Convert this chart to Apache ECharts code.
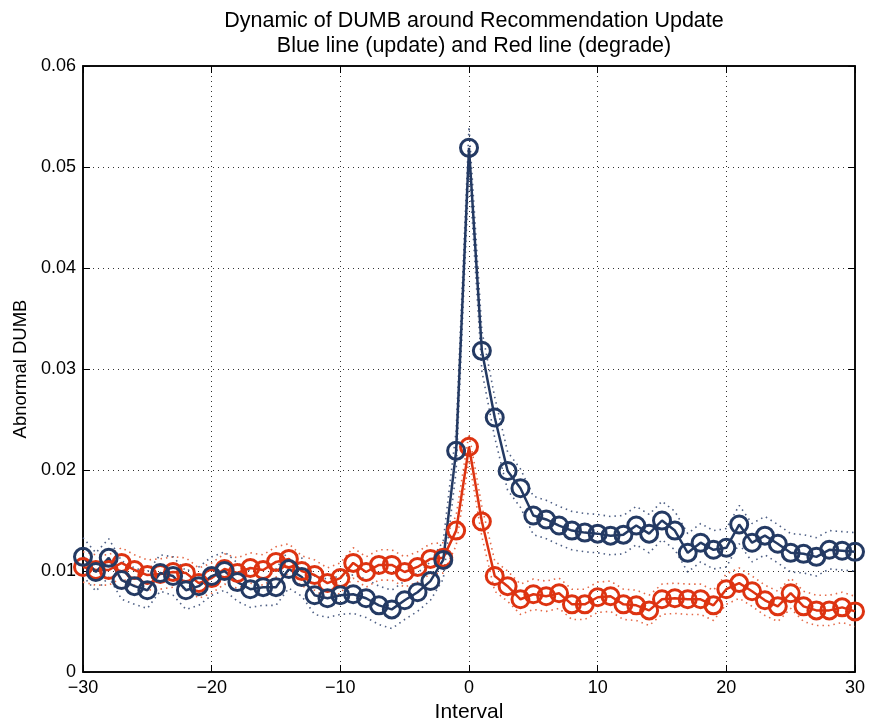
<!DOCTYPE html>
<html>
<head>
<meta charset="utf-8">
<script src="https://cdn.jsdelivr.net/npm/echarts@6/dist/echarts.min.js"></script>
<style>
  html, body { margin: 0; padding: 0; background: #fff; }
  #chart { width: 872px; height: 726px; }
</style>
</head>
<body>
<div id="chart"></div>
<script>
// interval offsets -30..30
var intervals = [-30,-29,-28,-27,-26,-25,-24,-23,-22,-21,-20,-19,-18,-17,-16,-15,-14,-13,-12,-11,
  -10,-9,-8,-7,-6,-5,-4,-3,-2,-1,0,1,2,3,4,5,6,7,8,9,10,11,12,13,14,15,16,17,18,19,20,
  21,22,23,24,25,26,27,28,29,30];

// blue line (update)
var updateVals = [0.0114,0.0099,0.0113,0.0091,0.0085,0.0081,0.0098,0.0095,0.0081,0.0085,
  0.0095,0.0100,0.0089,0.0082,0.0084,0.0084,0.0102,0.0094,0.0076,0.0073,
  0.0076,0.0077,0.0073,0.0066,0.0062,0.0071,0.0079,0.0090,0.0111,0.0219,
  0.0519,0.0318,0.0252,0.0199,0.0182,0.0155,0.0151,0.0145,0.0140,0.0138,
  0.0137,0.0135,0.0136,0.0145,0.0137,0.0150,0.0140,0.0118,0.0128,0.0121,
  0.0123,0.0146,0.0128,0.0135,0.0127,0.0118,0.0117,0.0114,0.0121,0.0120,0.0119];

// red line (degrade)
var degradeVals = [0.0104,0.0101,0.0101,0.0108,0.0101,0.0096,0.0097,0.0099,0.0098,0.0088,
  0.0093,0.0102,0.0098,0.0103,0.0101,0.0109,0.0112,0.0100,0.0096,0.0088,
  0.0093,0.0108,0.0099,0.0106,0.0106,0.0099,0.0104,0.0112,0.0113,0.0140,
  0.0223,0.0149,0.0095,0.0085,0.0072,0.0077,0.0075,0.0078,0.0067,0.0067,
  0.0074,0.0075,0.0067,0.0066,0.0061,0.0072,0.0073,0.0072,0.0072,0.0066,
  0.0082,0.0088,0.0080,0.0071,0.0065,0.0078,0.0065,0.0061,0.0061,0.0064,0.0060];

// half widths of the dotted bands
var updateBand = [0.0019,0.0019,0.0019,0.0019,0.0018,0.0018,0.0018,0.0019,0.0019,0.0019,
  0.0019,0.0019,0.0019,0.0018,0.0018,0.0018,0.0019,0.0019,0.0019,0.0019,
  0.0019,0.0019,0.0019,0.0019,0.0019,0.0019,0.0019,0.0019,0.0019,0.0020,
  0.0021,0.0020,0.0020,0.0019,0.0019,0.0019,0.0019,0.0019,0.0019,0.0019,
  0.0019,0.0019,0.0019,0.0019,0.0019,0.0019,0.0019,0.0019,0.0019,0.0019,
  0.0019,0.0019,0.0019,0.0019,0.0019,0.0019,0.0019,0.0019,0.0019,0.0019,0.0019];
var degradeBand = [0.0015,0.0015,0.0015,0.0015,0.0015,0.0015,0.0015,0.0015,0.0015,0.0015,
  0.0015,0.0015,0.0015,0.0015,0.0015,0.0015,0.0015,0.0015,0.0015,0.0015,
  0.0015,0.0015,0.0015,0.0015,0.0015,0.0015,0.0015,0.0015,0.0015,0.0015,
  0.0013,0.0015,0.0015,0.0015,0.0015,0.0015,0.0015,0.0015,0.0015,0.0015,
  0.0015,0.0015,0.0015,0.0015,0.0015,0.0015,0.0015,0.0015,0.0015,0.0015,
  0.0015,0.0015,0.0015,0.0015,0.0015,0.0015,0.0015,0.0015,0.0015,0.0015,0.0015];

var BLUE = '#243a63';
var RED = '#dd3311';
var FONT = 'Liberation Sans, Arial, sans-serif';

function pairs(vals, band, sign) {
  return intervals.map(function (x, i) {
    var v = band ? vals[i] + sign * band[i] : vals[i];
    return [x, v];
  });
}

function minusFmt(v) {
  return String(v).replace('-', '\u2212');
}

function bandSeries(vals, band, sign, color) {
  return {
    type: 'line',
    data: pairs(vals, band, sign),
    symbol: 'none',
    silent: true,
    lineStyle: { color: color, width: 1.6, type: [1.5, 4] },
    z: 1
  };
}

function mainSeries(vals, color) {
  return {
    type: 'line',
    data: pairs(vals),
    symbol: 'circle',
    symbolSize: 17,
    showAllSymbol: true,
    lineStyle: { color: color, width: 2.5 },
    itemStyle: { color: 'rgba(255,255,255,0)', borderColor: color, borderWidth: 3 },
    z: 3
  };
}

var axisLine = { show: true, onZero: false, lineStyle: { color: '#000', width: 1.5 } };
var splitLine = { show: true, lineStyle: { color: '#333', type: [1, 4], width: 1 } };
var tick = { show: true, inside: true, length: 7, lineStyle: { color: '#000' } };

var myChart = echarts.init(document.getElementById('chart'));
var option = {
  animation: false,
  backgroundColor: '#fff',
  title: {
    text: 'Dynamic of DUMB around Recommendation Update\nBlue line (update) and Red line (degrade)',
    left: 469,
    top: 4,
    textAlign: 'center',
    textStyle: { fontFamily: FONT, fontSize: 21.5, fontWeight: 'normal', color: '#000', lineHeight: 25 }
  },
  grid: {
    left: 83, right: 17, top: 66, bottom: 54,
    containLabel: false, outerBoundsMode: 'none',
    show: true, borderColor: '#000', borderWidth: 1.5
  },
  xAxis: [{
    type: 'value',
    min: -30, max: 30, interval: 10,
    name: 'Interval',
    nameLocation: 'middle',
    nameGap: 30,
    nameTextStyle: { fontFamily: FONT, fontSize: 21, color: '#000' },
    axisLine: axisLine,
    axisTick: tick,
    axisLabel: { fontFamily: FONT, fontSize: 18, color: '#000', margin: 7, formatter: minusFmt },
    splitLine: splitLine
  }, {
    type: 'value', position: 'top',
    min: -30, max: 30, interval: 10,
    axisLine: axisLine,
    axisTick: tick,
    axisLabel: { show: false },
    splitLine: { show: false }
  }],
  yAxis: [{
    type: 'value',
    min: 0, max: 0.06, interval: 0.01,
    name: 'Abnormal DUMB',
    nameLocation: 'middle',
    nameGap: 53,
    nameTextStyle: { fontFamily: FONT, fontSize: 18.5, color: '#000' },
    axisLine: axisLine,
    axisTick: tick,
    axisLabel: { fontFamily: FONT, fontSize: 18, color: '#000', margin: 7 },
    splitLine: splitLine
  }, {
    type: 'value', position: 'right',
    min: 0, max: 0.06, interval: 0.01,
    axisLine: axisLine,
    axisTick: tick,
    axisLabel: { show: false },
    splitLine: { show: false }
  }],
  series: [
    bandSeries(degradeVals, degradeBand, 1, '#e46a48'),
    bandSeries(degradeVals, degradeBand, -1, '#e46a48'),
    bandSeries(updateVals, updateBand, 1, '#4f6085'),
    bandSeries(updateVals, updateBand, -1, '#4f6085'),
    mainSeries(degradeVals, RED),
    mainSeries(updateVals, BLUE)
  ]
};
myChart.setOption(option);
</script>
</body>
</html>
